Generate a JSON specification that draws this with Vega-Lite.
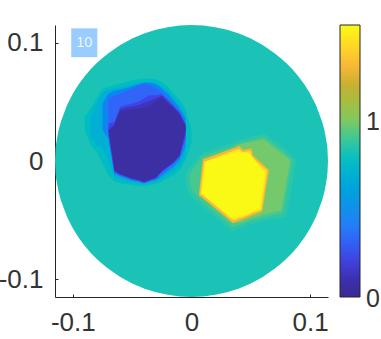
{"$schema":"https://vega.github.io/schema/vega-lite/v6.json","width":273,"height":272,"autosize":"none","padding":{"left":55,"top":25,"right":53,"bottom":42},"background":"white","config":{"view":{"stroke":null},"font":"Liberation Sans"},
"layer":[{"data":{"values":[
{"k":"a00","v":0.82,"x":-0.115,"y":0,"y2":0},{"k":"a00","v":0.82,"x":-0.1145,"y":0.0107,"y2":-0.0107},{"k":"a00","v":0.82,"x":-0.114,"y":0.0151,"y2":-0.0151},{"k":"a00","v":0.82,"x":-0.112,"y":0.0261,"y2":-0.0261},{"k":"a00","v":0.82,"x":-0.11,"y":0.0335,"y2":-0.0335},{"k":"a00","v":0.82,"x":-0.105,"y":0.0469,"y2":-0.0469},{"k":"a00","v":0.82,"x":-0.1,"y":0.0568,"y2":-0.0568},{"k":"a00","v":0.82,"x":-0.095,"y":0.0648,"y2":-0.0648},{"k":"a00","v":0.82,"x":-0.09,"y":0.0716,"y2":-0.0716},{"k":"a00","v":0.82,"x":-0.085,"y":0.0775,"y2":-0.0775},{"k":"a00","v":0.82,"x":-0.08,"y":0.0826,"y2":-0.0826},{"k":"a00","v":0.82,"x":-0.075,"y":0.0872,"y2":-0.0872},{"k":"a00","v":0.82,"x":-0.07,"y":0.0912,"y2":-0.0912},{"k":"a00","v":0.82,"x":-0.06,"y":0.0981,"y2":-0.0981},{"k":"a00","v":0.82,"x":-0.05,"y":0.1036,"y2":-0.1036},{"k":"a00","v":0.82,"x":-0.04,"y":0.1078,"y2":-0.1078},{"k":"a00","v":0.82,"x":-0.03,"y":0.111,"y2":-0.111},{"k":"a00","v":0.82,"x":-0.02,"y":0.1132,"y2":-0.1132},{"k":"a00","v":0.82,"x":-0.01,"y":0.1146,"y2":-0.1146},{"k":"a00","v":0.82,"x":0,"y":0.115,"y2":-0.115},{"k":"a00","v":0.82,"x":0.01,"y":0.1146,"y2":-0.1146},{"k":"a00","v":0.82,"x":0.02,"y":0.1132,"y2":-0.1132},{"k":"a00","v":0.82,"x":0.03,"y":0.111,"y2":-0.111},{"k":"a00","v":0.82,"x":0.04,"y":0.1078,"y2":-0.1078},{"k":"a00","v":0.82,"x":0.05,"y":0.1036,"y2":-0.1036},{"k":"a00","v":0.82,"x":0.06,"y":0.0981,"y2":-0.0981},{"k":"a00","v":0.82,"x":0.07,"y":0.0912,"y2":-0.0912},{"k":"a00","v":0.82,"x":0.075,"y":0.0872,"y2":-0.0872},{"k":"a00","v":0.82,"x":0.08,"y":0.0826,"y2":-0.0826},{"k":"a00","v":0.82,"x":0.085,"y":0.0775,"y2":-0.0775},{"k":"a00","v":0.82,"x":0.09,"y":0.0716,"y2":-0.0716},{"k":"a00","v":0.82,"x":0.095,"y":0.0648,"y2":-0.0648},{"k":"a00","v":0.82,"x":0.1,"y":0.0568,"y2":-0.0568},{"k":"a00","v":0.82,"x":0.105,"y":0.0469,"y2":-0.0469},{"k":"a00","v":0.82,"x":0.11,"y":0.0335,"y2":-0.0335},{"k":"a00","v":0.82,"x":0.112,"y":0.0261,"y2":-0.0261},{"k":"a00","v":0.82,"x":0.114,"y":0.0151,"y2":-0.0151},{"k":"a00","v":0.82,"x":0.1145,"y":0.0107,"y2":-0.0107},{"k":"a00","v":0.82,"x":0.115,"y":0,"y2":0},
{"k":"b1","v":0.77,"x":-0.09,"y":0.0374,"y2":0.0262},{"k":"b1","v":0.77,"x":-0.085,"y":0.0444,"y2":0.0135},{"k":"b1","v":0.77,"x":-0.08,"y":0.0529,"y2":0.0079},{"k":"b1","v":0.77,"x":-0.075,"y":0.0613,"y2":-0.002},{"k":"b1","v":0.77,"x":-0.07,"y":0.0627,"y2":-0.0118},{"k":"b1","v":0.77,"x":-0.065,"y":0.0641,"y2":-0.0174},{"k":"b1","v":0.77,"x":-0.06,"y":0.0655,"y2":-0.0188},{"k":"b1","v":0.77,"x":-0.055,"y":0.0669,"y2":-0.0194},{"k":"b1","v":0.77,"x":-0.05,"y":0.0684,"y2":-0.0203},{"k":"b1","v":0.77,"x":-0.045,"y":0.0692,"y2":-0.0211},{"k":"b1","v":0.77,"x":-0.04,"y":0.0698,"y2":-0.0211},{"k":"b1","v":0.77,"x":-0.035,"y":0.0698,"y2":-0.0205},{"k":"b1","v":0.77,"x":-0.03,"y":0.0692,"y2":-0.0194},{"k":"b1","v":0.77,"x":-0.025,"y":0.0669,"y2":-0.0174},{"k":"b1","v":0.77,"x":-0.02,"y":0.0627,"y2":-0.0146},{"k":"b1","v":0.77,"x":-0.015,"y":0.0571,"y2":-0.0118},{"k":"b1","v":0.77,"x":-0.01,"y":0.0515,"y2":-0.0076},{"k":"b1","v":0.77,"x":-0.005,"y":0.0444,"y2":0.0008},{"k":"b1","v":0.77,"x":0,"y":0.0262,"y2":0.0149},
{"k":"b2","v":0.68,"x":-0.085,"y":0.036,"y2":0.0205},{"k":"b2","v":0.68,"x":-0.08,"y":0.0487,"y2":0.0135},{"k":"b2","v":0.68,"x":-0.075,"y":0.0577,"y2":0.0107},{"k":"b2","v":0.68,"x":-0.07,"y":0.0605,"y2":0.0008},{"k":"b2","v":0.68,"x":-0.065,"y":0.0613,"y2":-0.0138},{"k":"b2","v":0.68,"x":-0.06,"y":0.0622,"y2":-0.0155},{"k":"b2","v":0.68,"x":-0.055,"y":0.0633,"y2":-0.0169},{"k":"b2","v":0.68,"x":-0.05,"y":0.065,"y2":-0.0177},{"k":"b2","v":0.68,"x":-0.045,"y":0.0661,"y2":-0.0188},{"k":"b2","v":0.68,"x":-0.04,"y":0.0669,"y2":-0.0194},{"k":"b2","v":0.68,"x":-0.035,"y":0.0669,"y2":-0.0183},{"k":"b2","v":0.68,"x":-0.03,"y":0.0661,"y2":-0.0172},{"k":"b2","v":0.68,"x":-0.025,"y":0.0633,"y2":-0.0149},{"k":"b2","v":0.68,"x":-0.02,"y":0.0594,"y2":-0.0115},{"k":"b2","v":0.68,"x":-0.015,"y":0.0537,"y2":-0.0082},{"k":"b2","v":0.68,"x":-0.01,"y":0.0473,"y2":-0.0034},{"k":"b2","v":0.68,"x":-0.005,"y":0.0402,"y2":0.0051},
{"k":"b3","v":0.44,"x":-0.075,"y":0.0487,"y2":0.0262},{"k":"b3","v":0.44,"x":-0.07,"y":0.0571,"y2":0.0191},{"k":"b3","v":0.44,"x":-0.065,"y":0.0594,"y2":-0.011},{"k":"b3","v":0.44,"x":-0.06,"y":0.0605,"y2":-0.0132},{"k":"b3","v":0.44,"x":-0.055,"y":0.0616,"y2":-0.0149},{"k":"b3","v":0.44,"x":-0.05,"y":0.0633,"y2":-0.0166},{"k":"b3","v":0.44,"x":-0.045,"y":0.065,"y2":-0.0174},{"k":"b3","v":0.44,"x":-0.04,"y":0.0661,"y2":-0.0188},{"k":"b3","v":0.44,"x":-0.035,"y":0.0661,"y2":-0.0174},{"k":"b3","v":0.44,"x":-0.03,"y":0.065,"y2":-0.016},{"k":"b3","v":0.44,"x":-0.025,"y":0.0613,"y2":-0.0127},{"k":"b3","v":0.44,"x":-0.02,"y":0.0571,"y2":-0.0087},{"k":"b3","v":0.44,"x":-0.015,"y":0.0509,"y2":-0.0048},{"k":"b3","v":0.44,"x":-0.01,"y":0.0444,"y2":0.0008},{"k":"b3","v":0.44,"x":-0.005,"y":0.036,"y2":0.0121},
{"k":"b4","v":0.32,"x":-0.07,"y":0.0529,"y2":0.0205},{"k":"b4","v":0.32,"x":-0.065,"y":0.0551,"y2":-0.0098},{"k":"b4","v":0.32,"x":-0.06,"y":0.0571,"y2":-0.0124},{"k":"b4","v":0.32,"x":-0.055,"y":0.0594,"y2":-0.0141},{"k":"b4","v":0.32,"x":-0.05,"y":0.0613,"y2":-0.016},{"k":"b4","v":0.32,"x":-0.045,"y":0.0636,"y2":-0.0169},{"k":"b4","v":0.32,"x":-0.04,"y":0.065,"y2":-0.0188},{"k":"b4","v":0.32,"x":-0.035,"y":0.0641,"y2":-0.0169},{"k":"b4","v":0.32,"x":-0.03,"y":0.0613,"y2":-0.0155},{"k":"b4","v":0.32,"x":-0.025,"y":0.0577,"y2":-0.0104},{"k":"b4","v":0.32,"x":-0.02,"y":0.0529,"y2":-0.0065},{"k":"b4","v":0.32,"x":-0.015,"y":0.0473,"y2":-0.0025},{"k":"b4","v":0.32,"x":-0.01,"y":0.0416,"y2":0.0031},{"k":"b4","v":0.32,"x":-0.005,"y":0.0318,"y2":0.0177},
{"k":"b5","v":0.22,"x":-0.07,"y":0.0318,"y2":0.0219},{"k":"b5","v":0.22,"x":-0.065,"y":0.0332,"y2":-0.0087},{"k":"b5","v":0.22,"x":-0.06,"y":0.0459,"y2":-0.0118},{"k":"b5","v":0.22,"x":-0.055,"y":0.0473,"y2":-0.0135},{"k":"b5","v":0.22,"x":-0.05,"y":0.0487,"y2":-0.0155},{"k":"b5","v":0.22,"x":-0.045,"y":0.0501,"y2":-0.0166},{"k":"b5","v":0.22,"x":-0.04,"y":0.0529,"y2":-0.0183},{"k":"b5","v":0.22,"x":-0.035,"y":0.0557,"y2":-0.0163},{"k":"b5","v":0.22,"x":-0.03,"y":0.0557,"y2":-0.0146},{"k":"b5","v":0.22,"x":-0.025,"y":0.0565,"y2":-0.0093},{"k":"b5","v":0.22,"x":-0.02,"y":0.0515,"y2":-0.0053},{"k":"b5","v":0.22,"x":-0.015,"y":0.0464,"y2":-0.0017},{"k":"b5","v":0.22,"x":-0.01,"y":0.0411,"y2":0.0039},{"k":"b5","v":0.22,"x":-0.005,"y":0.0312,"y2":0.0205},
{"k":"b5b","v":0.13,"x":-0.065,"y":0.0318,"y2":-0.0082},{"k":"b5b","v":0.13,"x":-0.06,"y":0.044,"y2":-0.0114},{"k":"b5b","v":0.13,"x":-0.055,"y":0.0452,"y2":-0.0131},{"k":"b5b","v":0.13,"x":-0.05,"y":0.0463,"y2":-0.015},{"k":"b5b","v":0.13,"x":-0.045,"y":0.0472,"y2":-0.016},{"k":"b5b","v":0.13,"x":-0.04,"y":0.0491,"y2":-0.0178},{"k":"b5b","v":0.13,"x":-0.035,"y":0.051,"y2":-0.0159},{"k":"b5b","v":0.13,"x":-0.03,"y":0.0533,"y2":-0.0142},{"k":"b5b","v":0.13,"x":-0.025,"y":0.0551,"y2":-0.0087},{"k":"b5b","v":0.13,"x":-0.02,"y":0.0501,"y2":-0.0047},{"k":"b5b","v":0.13,"x":-0.015,"y":0.0454,"y2":-0.0011},{"k":"b5b","v":0.13,"x":-0.01,"y":0.04,"y2":0.0045},{"k":"b5b","v":0.13,"x":-0.005,"y":0.03,"y2":0.025},
{"k":"b6","v":0.06,"x":-0.07,"y":0.0262,"y2":0.0262},{"k":"b6","v":0.06,"x":-0.065,"y":0.0304,"y2":-0.0076},{"k":"b6","v":0.06,"x":-0.06,"y":0.0422,"y2":-0.011},{"k":"b6","v":0.06,"x":-0.055,"y":0.043,"y2":-0.0127},{"k":"b6","v":0.06,"x":-0.05,"y":0.0439,"y2":-0.0146},{"k":"b6","v":0.06,"x":-0.045,"y":0.0444,"y2":-0.0155},{"k":"b6","v":0.06,"x":-0.04,"y":0.0453,"y2":-0.0174},{"k":"b6","v":0.06,"x":-0.035,"y":0.0464,"y2":-0.0155},{"k":"b6","v":0.06,"x":-0.03,"y":0.0509,"y2":-0.0138},{"k":"b6","v":0.06,"x":-0.025,"y":0.0537,"y2":-0.0082},{"k":"b6","v":0.06,"x":-0.02,"y":0.0487,"y2":-0.0042},{"k":"b6","v":0.06,"x":-0.015,"y":0.0444,"y2":-0.0006},{"k":"b6","v":0.06,"x":-0.01,"y":0.0388,"y2":0.0051},{"k":"b6","v":0.06,"x":-0.005,"y":0.029,"y2":0.0262},
{"k":"c1","v":0.86,"x":-0.0051,"y":-0.0118,"y2":-0.0188},{"k":"c1","v":0.86,"x":-0.0017,"y":-0.0048,"y2":-0.0287},{"k":"c1","v":0.86,"x":0.0096,"y":0.007,"y2":-0.0391},{"k":"c1","v":0.86,"x":0.0349,"y":0.0155,"y2":-0.0596},{"k":"c1","v":0.86,"x":0.0419,"y":0.0183,"y2":-0.056},{"k":"c1","v":0.86,"x":0.0616,"y":0.0233,"y2":-0.0504},{"k":"c1","v":0.86,"x":0.0799,"y":0.0098,"y2":-0.0475},{"k":"c1","v":0.86,"x":0.0883,"y":0.0003,"y2":0.0003},
{"k":"c2","v":0.91,"x":-0.0017,"y":-0.0118,"y2":-0.0188},{"k":"c2","v":0.91,"x":0.0006,"y":-0.0076,"y2":-0.025},{"k":"c2","v":0.91,"x":0.0096,"y":0.0042,"y2":-0.0352},{"k":"c2","v":0.91,"x":0.0349,"y":0.0127,"y2":-0.056},{"k":"c2","v":0.91,"x":0.0419,"y":0.0155,"y2":-0.0532},{"k":"c2","v":0.91,"x":0.0608,"y":0.0205,"y2":-0.0475},{"k":"c2","v":0.91,"x":0.0771,"y":0.0087,"y2":-0.0442},{"k":"c2","v":0.91,"x":0.085,"y":0.0008,"y2":0.0008},
{"k":"c3","v":0.98,"x":0.0377,"y":0.0135,"y2":-0.0526},{"k":"c3","v":0.98,"x":0.0419,"y":0.0143,"y2":-0.0518},{"k":"c3","v":0.98,"x":0.0608,"y":0.0183,"y2":-0.0453},{"k":"c3","v":0.98,"x":0.0757,"y":0.0068,"y2":-0.0419},{"k":"c3","v":0.98,"x":0.0833,"y":0.0008,"y2":0.0008},
{"k":"c4","v":1.3,"x":0.0062,"y":-0.0287,"y2":-0.0287},{"k":"c4","v":1.3,"x":0.0096,"y":0.0014,"y2":-0.0315},{"k":"c4","v":1.3,"x":0.0349,"y":0.0107,"y2":-0.0526},{"k":"c4","v":1.3,"x":0.0405,"y":0.0127,"y2":-0.0504},{"k":"c4","v":1.3,"x":0.0433,"y":0.0093,"y2":-0.0492},{"k":"c4","v":1.3,"x":0.0504,"y":0.0107,"y2":-0.0464},{"k":"c4","v":1.3,"x":0.0518,"y":0.0051,"y2":-0.0459},{"k":"c4","v":1.3,"x":0.0596,"y":-0.0023,"y2":-0.0428},{"k":"c4","v":1.3,"x":0.0653,"y":-0.0076,"y2":-0.0076},
{"k":"c5","v":1.46,"x":0.0076,"y":-0.0278,"y2":-0.0278},{"k":"c5","v":1.46,"x":0.0107,"y":-0.0006,"y2":-0.0298},{"k":"c5","v":1.46,"x":0.0349,"y":0.0084,"y2":-0.0504},{"k":"c5","v":1.46,"x":0.0399,"y":0.0101,"y2":-0.0487},{"k":"c5","v":1.46,"x":0.0433,"y":0.0076,"y2":-0.0475},{"k":"c5","v":1.46,"x":0.0495,"y":0.0084,"y2":-0.045},{"k":"c5","v":1.46,"x":0.0506,"y":0.0034,"y2":-0.0442},{"k":"c5","v":1.46,"x":0.0588,"y":-0.0037,"y2":-0.0414},{"k":"c5","v":1.46,"x":0.0636,"y":-0.0082,"y2":-0.0082},
{"k":"c6","v":1.53,"x":0.0087,"y":-0.0273,"y2":-0.0273},{"k":"c6","v":1.53,"x":0.0121,"y":-0.0006,"y2":-0.0309},{"k":"c6","v":1.53,"x":0.0349,"y":0.0065,"y2":-0.0487},{"k":"c6","v":1.53,"x":0.0394,"y":0.0079,"y2":-0.047},{"k":"c6","v":1.53,"x":0.049,"y":0.0065,"y2":-0.0439},{"k":"c6","v":1.53,"x":0.0574,"y":-0.0048,"y2":-0.0402},{"k":"c6","v":1.53,"x":0.0619,"y":-0.009,"y2":-0.009}
]},
"mark":{"type":"area","interpolate":"linear","clip":true},
"encoding":{
"x":{"field":"x","type":"quantitative","scale":{"domain":[-0.115,0.115],"nice":false},"axis":{"values":[-0.1,0,0.1],"grid":false,"title":null,"labelExpr":"datum.value==0?'0':(datum.value<0?'-0.1':'0.1')","labelFont":"Liberation Sans","labelFontSize":26,"labelColor":"#333333","tickColor":"#262626","domainColor":"#262626","tickSize":-3,"labelPadding":15,"labelFlush":false,"labelOverlap":false}},
"y":{"field":"y","type":"quantitative","scale":{"domain":[-0.115,0.115],"nice":false},"axis":{"values":[-0.1,0,0.1],"grid":false,"title":null,"labelExpr":"datum.value==0?'0':(datum.value<0?'-0.1':'0.1')","labelFont":"Liberation Sans","labelFontSize":26,"labelColor":"#333333","tickColor":"#262626","domainColor":"#262626","tickSize":-3,"labelPadding":15,"labelOverlap":false}},
"y2":{"field":"y2"},
"detail":{"field":"k","type":"nominal"},
"color":{"field":"v","type":"quantitative","scale":{"domain":[0,0.1,0.24,0.38,0.55,0.746,0.83,1,1.2,1.31,1.537],"range":["#3a2a90","#3c30b0","#4048f0","#2f78fa","#2a98e0","#05b8c8","#22c4b4","#80c860","#c8b030","#fbb838","#f9fb15"],"clamp":true},"legend":{"orient":"none","legendX":285,"legendY":0,"title":null,"type":"gradient","gradientLength":272,"gradientThickness":20,"gradientStrokeColor":"#262626","gradientStrokeWidth":1,"values":[0,1],"format":".0f","labelFont":"Liberation Sans","labelFontSize":25,"labelColor":"#333333","labelOffset":6,"encode":{"labels":{"update":{"baseline":{"value":"middle"},"dy":{"value":2}}}}}}
}},
{"data":{"values":[{"x":-0.1013,"x2":-0.0793,"y":0.1122,"y2":0.0878,"t":"10"}]},"layer":[
{"mark":{"type":"rect","color":"#99ccff"},"encoding":{"x":{"field":"x","type":"quantitative"},"x2":{"field":"x2"},"y":{"field":"y","type":"quantitative"},"y2":{"field":"y2"}}},
{"transform":[{"calculate":"(datum.x+datum.x2)/2","as":"xm"},{"calculate":"(datum.y+datum.y2)/2","as":"ym"}],"mark":{"type":"text","color":"#eef6ff","font":"Liberation Sans","fontSize":14.5,"align":"center","baseline":"middle"},"encoding":{"x":{"field":"xm","type":"quantitative"},"y":{"field":"ym","type":"quantitative"},"text":{"field":"t"}}}
]},
{"data":{"values":[{"x":0.139,"x2":0.1415,"y":0.0347}]},"mark":{"type":"rule","color":"#262626","clip":false},"encoding":{"x":{"field":"x","type":"quantitative"},"x2":{"field":"x2"},"y":{"field":"y","type":"quantitative"}}}
]}
